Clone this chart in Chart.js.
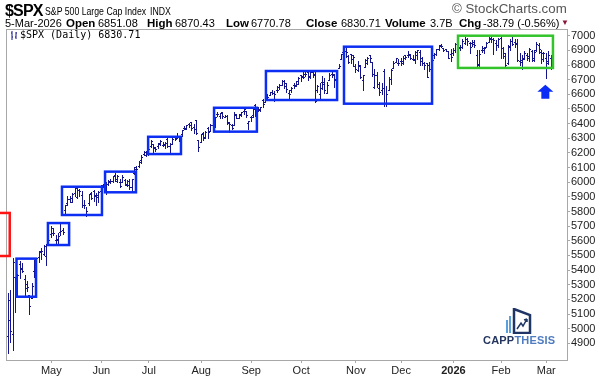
<!DOCTYPE html>
<html>
<head>
<meta charset="utf-8">
<script src="https://cdn.jsdelivr.net/npm/chart.js@4.4.1/dist/chart.umd.min.js"></script>
<style>
html, body { margin: 0; padding: 0; background: #fff; }
#wrap { position: relative; width: 601px; height: 380px; overflow: hidden; font-family: "Liberation Sans", Arial, sans-serif; }
#wrap canvas { position: absolute; left: 0; top: 0; }
.t { position: absolute; white-space: nowrap; line-height: 14px; color: #000; }
.b { font-weight: bold; font-size: 11.5px; }
.v { font-size: 11px; }
.n { transform: scaleX(0.83); transform-origin: 0 0; }
</style>
</head>
<body>
<div id="wrap">
  <canvas id="chart" width="601" height="380"></canvas>

  <div class="t" style="left:5px;top:2px;font-size:16px;font-weight:bold;line-height:18px;letter-spacing:-0.8px">$SPX</div>
  <div class="t n" style="left:45px;top:4px;font-size:10.5px">S&amp;P 500 Large Cap Index</div>
  <div class="t n" style="left:150px;top:4px;font-size:10.5px">INDX</div>
  <div class="t" style="left:452px;top:2px;font-size:13.3px;color:#555">&copy; StockCharts.com</div>

  <div class="t v" style="left:5px;top:16px">5-Mar-2026</div>
  <div class="t b" style="left:66px;top:16px">Open</div><div class="t v" style="left:98px;top:16px">6851.08</div>
  <div class="t b" style="left:147px;top:16px">High</div><div class="t v" style="left:175px;top:16px">6870.43</div>
  <div class="t b" style="left:226px;top:16px">Low</div><div class="t v" style="left:251px;top:16px">6770.78</div>
  <div class="t b" style="left:306px;top:16px">Close</div><div class="t v" style="left:341px;top:16px">6830.71</div>
  <div class="t b" style="left:385px;top:16px">Volume</div><div class="t v" style="left:430px;top:16px">3.7B</div>
  <div class="t b" style="left:459px;top:16px">Chg</div><div class="t v" style="left:483px;top:16px">-38.79 (-0.56%)</div>
  <div class="t" style="left:561px;top:16px;font-size:8px;color:#8b1538">&#9660;</div>

  <svg style="position:absolute;left:10px;top:31px" width="8" height="9">
    <path d="M2 0V9M1 2H2M2 6H3M6 1V8M5 6H6M6 2H7" stroke="#14148c" stroke-width="1" fill="none"/>
  </svg>
  <div class="t" style="left:20px;top:28px;font-family:'DejaVu Sans Mono',monospace;font-size:10px">$SPX (Daily) 6830.71</div>

  <svg style="position:absolute;left:505px;top:308px" width="28" height="26">
    <rect x="1" y="12" width="2" height="13" fill="#5aa0dc"/>
    <rect x="4" y="8" width="2" height="17" fill="#5aa0dc"/>
    <path d="M9 1L25 7V25H9Z" fill="none" stroke="#1f3566" stroke-width="2.5"/>
    <path d="M12 21L16 15L18 18L22 11M22 11L19 12M22 11L22 14" fill="none" stroke="#1f3566" stroke-width="1.5"/>
  </svg>
  <div class="t" style="left:483px;top:333px;font-size:11px;font-weight:bold;letter-spacing:0.2px"><span style="color:#24355f">CAPP</span><span style="color:#4f7cc0">THESIS</span></div>
</div>

<script>
// daily bars, 7-Apr-2025 .. 5-Mar-2026 (one line per month)
const opens = [
  4953,5193,4966,5353,5255,5441,5411,5336,5306,5232,5208,5395,5381,5489,5529,5508,5499,
  5625,5645,5656,5605,5613,5663,5675,5808,5855,5883,5866,5929,5902,5944,5910,5841,5781,5855,5925,5939,5903,
  5897,5938,5978,5985,5987,6005,6010,6050,6010,5998,6004,6012,5987,6005,5970,6062,6104,6113,6151,6193,
  6188,6193,6247,6259,6237,6245,6266,6256,6256,6295,6250,6264,6311,6304,6307,6327,6368,6370,6397,6409,6379,6427,
  6287,6272,6336,6309,6371,6351,6389,6398,6467,6453,6479,6446,6451,6407,6387,6387,6458,6437,6458,6487,6486,
  6401,6444,6457,6528,6498,6503,6560,6546,6590,6596,6617,6610,6628,6650,6662,6693,6677,6608,6626,6661,6658,
  6669,6732,6722,6740,6752,6725,6752,6740,6632,6605,6686,6687,6607,6701,6737,6741,6704,6781,6842,6891,6897,6860,6873,
  6866,6793,6768,6798,6700,6789,6815,6866,6818,6647,6729,6645,6629,6757,6541,6632,6705,6782,6822,
  6813,6830,6815,6866,6867,6876,6844,6837,6866,6889,6851,6814,6813,6800,6808,6865,6873,6911,6935,6916,6907,6896,
  6878,6885,6905,6940,6915,6925,6950,6980,6950,6950,6955,6870,6805,6905,6900,6925,6960,6985,6975,6950,
  6935,6985,6915,6860,6815,6920,6965,6955,6950,6830,6820,6850,6870,6850,6895,6845,6900,6940,6890,
  6840,6850,6825,6851
];
const highs = [
  5246,5267,5481,5353,5370,5460,5450,5367,5328,5232,5309,5470,5485,5528,5554,5572,5581,
  5658,5700,5687,5641,5655,5721,5684,5845,5907,5906,5925,5958,5969,5953,5938,5878,5829,5922,5930,5944,5923,
  5938,5981,5990,5999,6016,6021,6043,6060,6046,6019,6051,6024,6018,6019,6025,6101,6108,6146,6187,6215,
  6210,6227,6285,6263,6243,6265,6291,6272,6273,6302,6266,6299,6316,6336,6310,6359,6381,6390,6402,6410,6394,6427,
  6288,6330,6344,6352,6378,6395,6409,6446,6481,6474,6481,6459,6457,6408,6394,6479,6467,6466,6482,6508,6489,
  6416,6454,6502,6533,6512,6513,6566,6592,6601,6615,6627,6624,6656,6672,6695,6698,6677,6632,6650,6674,6689,
  6718,6733,6750,6749,6755,6753,6755,6764,6665,6680,6722,6712,6682,6744,6752,6741,6747,6808,6877,6900,6920,6869,6874,
  6870,6807,6829,6801,6731,6841,6853,6869,6819,6775,6755,6683,6677,6770,6655,6715,6776,6828,6850,
  6843,6851,6862,6868,6895,6878,6865,6896,6904,6901,6855,6819,6817,6820,6843,6880,6910,6937,6945,6917,6911,6899,
  6912,6915,6950,6948,6935,6978,6988,6986,6960,6968,6972,6905,6900,6930,6925,6958,6990,6992,6985,6968,
  6985,6998,6925,6880,6940,6975,6990,6975,6975,6880,6865,6895,6885,6915,6905,6900,6955,6948,6905,
  6890,6885,6895,6870
];
const lows = [
  4835,4910,4857,5115,5221,5348,5386,5220,5255,5101,5208,5356,5371,5455,5478,5506,5433,
  5598,5628,5639,5586,5584,5640,5646,5786,5845,5863,5863,5907,5895,5909,5830,5825,5767,5843,5884,5874,5843,
  5862,5922,5967,5921,5978,5994,6003,6007,6004,5964,6004,5978,5971,5952,5943,6059,6081,6107,6132,6184,
  6178,6188,6241,6201,6216,6236,6255,6248,6236,6242,6201,6262,6285,6302,6281,6314,6360,6364,6378,6358,6334,6327,
  6212,6271,6288,6302,6302,6350,6364,6375,6450,6441,6441,6443,6398,6343,6360,6387,6439,6435,6453,6466,6444,
  6361,6416,6446,6449,6484,6487,6513,6545,6577,6594,6599,6551,6616,6638,6661,6643,6619,6569,6616,6646,6656,
  6667,6694,6708,6726,6695,6713,6717,6550,6619,6569,6637,6607,6606,6701,6718,6647,6699,6779,6838,6857,6854,6817,6816,
  6796,6753,6758,6709,6631,6789,6810,6818,6722,6646,6653,6593,6604,6522,6521,6632,6670,6782,6819,
  6799,6801,6810,6839,6858,6838,6832,6817,6841,6801,6801,6776,6720,6761,6789,6847,6870,6905,6922,6894,6893,6845,
  6825,6870,6890,6905,6900,6918,6945,6940,6885,6932,6925,6790,6795,6890,6885,6920,6955,6960,6875,6905,
  6925,6850,6845,6790,6805,6905,6935,6920,6825,6800,6775,6840,6835,6830,6825,6830,6895,6880,6815,
  6825,6710,6805,6771
];
const closes = [
  5062,4982,5457,5268,5363,5406,5397,5276,5283,5158,5288,5376,5485,5525,5529,5561,5569,
  5604,5687,5650,5607,5631,5664,5660,5844,5886,5892,5917,5958,5964,5940,5845,5842,5803,5922,5889,5912,5912,
  5936,5970,5971,5939,6000,6006,6039,6022,6045,5977,6033,5983,5981,5967,6025,6092,6092,6141,6173,6205,
  6198,6227,6279,6230,6226,6263,6280,6260,6269,6244,6264,6297,6297,6306,6309,6359,6363,6389,6390,6371,6362,6339,
  6238,6330,6299,6345,6340,6389,6374,6446,6466,6469,6450,6449,6411,6396,6370,6467,6440,6466,6481,6502,6460,
  6416,6448,6502,6482,6495,6513,6532,6587,6584,6615,6607,6600,6632,6664,6693,6657,6638,6605,6644,6661,6688,
  6711,6715,6716,6740,6715,6753,6735,6553,6655,6644,6671,6630,6664,6735,6735,6699,6738,6792,6875,6891,6890,6822,6840,
  6852,6772,6796,6720,6729,6832,6846,6851,6737,6734,6672,6617,6642,6538,6603,6705,6766,6813,6849,
  6813,6829,6850,6857,6870,6846,6840,6887,6901,6827,6816,6800,6721,6775,6834,6878,6909,6932,6930,6905,6896,6845,
  6858,6902,6945,6921,6921,6966,6977,6963,6926,6944,6940,6797,6876,6913,6916,6950,6979,6978,6969,6939,
  6976,6918,6883,6798,6932,6965,6942,6941,6833,6836,6843,6881,6861,6910,6837,6890,6946,6908,6879,
  6881,6817,6870,6831
];

// first trading day of each month (bar index) and the axis labels
const monthStarts = [17, 38, 58, 80, 101, 122, 145, 164, 186, 206, 225];
const monthLabels = ['May', 'Jun', 'Jul', 'Aug', 'Sep', 'Oct', 'Nov', 'Dec', '2026', 'Feb', 'Mar'];
const priceTicks = [4900, 5000, 5100, 5200, 5300, 5400, 5500, 5600, 5700, 5800, 5900,
                    6000, 6100, 6200, 6300, 6400, 6500, 6600, 6700, 6800, 6900, 7000];

// hand drawn boxes on the chart: bar index range and price range
const boxes = [
  { from: -6, to: 0.55, lo: 5496, hi: 5790, color: '#ff1414' },
  { from: 3.4, to: 11.6, lo: 5218, hi: 5478, color: '#0c2ef2' },
  { from: 16.6, to: 25.5, lo: 5571, hi: 5721, color: '#0c2ef2' },
  { from: 22.5, to: 39.3, lo: 5776, hi: 5969, color: '#0c2ef2' },
  { from: 40.6, to: 53.6, lo: 5931, hi: 6072, color: '#0c2ef2' },
  { from: 58.7, to: 72.5, lo: 6192, hi: 6310, color: '#0c2ef2' },
  { from: 86.4, to: 104.4, lo: 6345, hi: 6508, color: '#0c2ef2' },
  { from: 108.2, to: 138.1, lo: 6561, hi: 6759, color: '#0c2ef2' },
  { from: 141, to: 178, lo: 6536, hi: 6925, color: '#0c2ef2' },
  { from: 188.9, to: 228.8, lo: 6780, hi: 7000, color: '#33c42c' }
];
const arrowMark = { at: 225.6, tip: 6665 };

const barColor = '#14148c';
const axisFont = '"Liberation Sans", Arial, sans-serif';

const ohlcPlugin = {
    id: 'ohlc',
    beforeDatasetDraw(chart, args) {
        const { ctx, chartArea: a } = chart;
        const y = chart.scales.y;
        ctx.save();
        ctx.beginPath();
        ctx.rect(a.left, a.top, a.right - a.left, a.bottom - a.top);
        ctx.clip();
        ctx.fillStyle = barColor;
        args.meta.data.forEach((bar, i) => {
            const px = Math.round(bar.x - 0.5);
            const yh = Math.round(y.getPixelForValue(highs[i]));
            const yl = Math.round(y.getPixelForValue(lows[i]));
            ctx.fillRect(px, yh, 1, Math.max(1, yl - yh + 1));
            ctx.fillRect(px - 1, Math.round(y.getPixelForValue(opens[i])), 1, 1);
            ctx.fillRect(px + 1, Math.round(y.getPixelForValue(closes[i])), 1, 1);
        });
        ctx.restore();
        return false;
    },
    afterDatasetsDraw(chart) {
        const { ctx, chartArea: a, scales: { x, y } } = chart;
        ctx.save();
        // frame
        ctx.strokeStyle = '#a8a8a8';
        ctx.lineWidth = 1;
        ctx.strokeRect(a.left - 0.5, a.top - 0.5, a.right - a.left + 1, a.bottom - a.top + 1);
        // boxes
        ctx.lineWidth = 2.5;
        boxes.forEach(b => {
            ctx.strokeStyle = b.color;
            const x0 = x.getPixelForValue(b.from), x1 = x.getPixelForValue(b.to);
            const y0 = y.getPixelForValue(b.hi), y1 = y.getPixelForValue(b.lo);
            ctx.strokeRect(x0, y0, x1 - x0, y1 - y0);
        });
        // arrow under the last dip
        const ax = x.getPixelForValue(arrowMark.at);
        const ay = y.getPixelForValue(arrowMark.tip);
        ctx.fillStyle = '#0a2cf5';
        ctx.beginPath();
        ctx.moveTo(ax, ay);
        ctx.lineTo(ax + 8, ay + 7);
        ctx.lineTo(ax + 4, ay + 7);
        ctx.lineTo(ax + 4, ay + 14);
        ctx.lineTo(ax - 4, ay + 14);
        ctx.lineTo(ax - 4, ay + 7);
        ctx.lineTo(ax - 8, ay + 7);
        ctx.closePath();
        ctx.fill();
        ctx.restore();
    }
};

new Chart(document.getElementById('chart'), {
    type: 'bar',
    data: {
        datasets: [{
            data: highs.map((h, i) => ({ x: i, y: [lows[i], h] })),
            backgroundColor: barColor,
            barThickness: 1,
            grouped: false
        }]
    },
    options: {
        responsive: false,
        animation: false,
        devicePixelRatio: 1,
        layout: { padding: { left: 7, top: 30, right: 0, bottom: 0 } },
        plugins: { legend: { display: false }, tooltip: { enabled: false } },
        scales: {
            x: {
                type: 'linear',
                offset: false,
                min: -0.6,
                max: 234.7,
                afterBuildTicks: s => { s.ticks = monthStarts.map(v => ({ value: v + 1 })); },
                afterFit: s => { s.height = 20; },
                grid: { display: true, drawOnChartArea: false, offset: false, tickLength: 3, color: '#a8a8a8' },
                border: { display: false },
                ticks: {
                    autoSkip: false,
                    maxRotation: 0,
                    padding: 1,
                    color: '#222',
                    font: c => ({ family: axisFont, size: 11, weight: monthLabels[c.index] === '2026' ? 'bold' : 'normal' }),
                    callback: (v, i) => monthLabels[i]
                }
            },
            y: {
                position: 'right',
                min: 4786,
                max: 7039,
                afterBuildTicks: s => { s.ticks = priceTicks.map(v => ({ value: v })); },
                afterFit: s => { s.width = 34; },
                grid: { display: true, drawOnChartArea: false, tickLength: 3, color: '#a8a8a8' },
                border: { display: false },
                ticks: { autoSkip: false, padding: 1, color: '#222', font: { family: axisFont, size: 11 }, callback: v => v }
            }
        }
    },
    plugins: [ohlcPlugin]
});
</script>
</body>
</html>
